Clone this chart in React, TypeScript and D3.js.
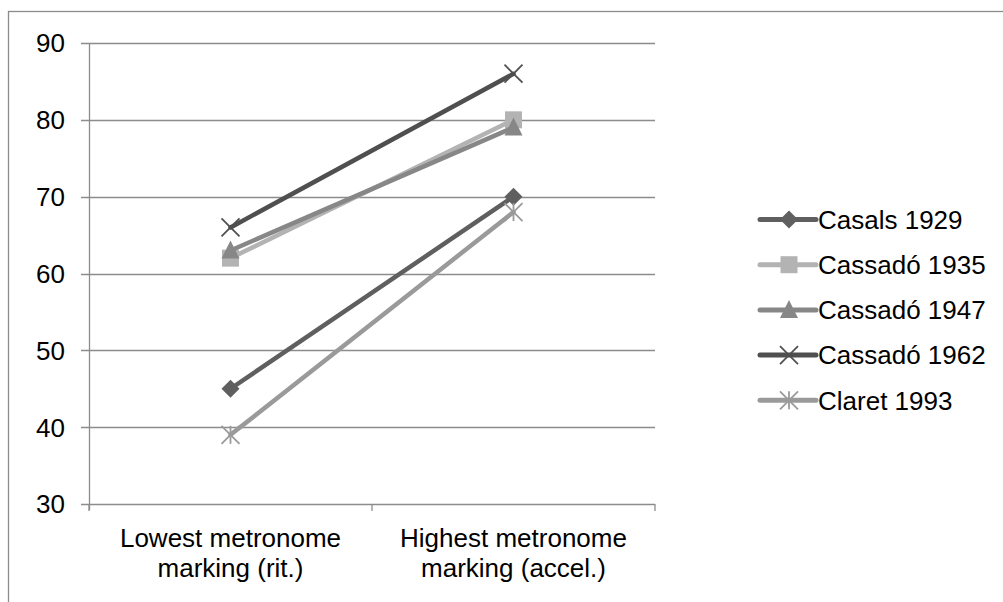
import React from "react";
import * as d3 from "d3";

const categories = ["Lowest metronome marking (rit.)", "Highest metronome marking (accel.)"];
const categoryLines = [["Lowest metronome", "marking (rit.)"], ["Highest metronome", "marking (accel.)"]];
const seriesNames = ["Casals 1929", "Cassadó 1935", "Cassadó 1947", "Cassadó 1962", "Claret 1993"];
const casals1929 = [45, 70];
const cassado1935 = [62, 80];
const cassado1947 = [63, 79];
const cassado1962 = [66, 86];
const claret1993 = [39, 68];
const yTicks = [30, 40, 50, 60, 70, 80, 90];

const seriesValues = [casals1929, cassado1935, cassado1947, cassado1962, claret1993];
const colors = ["#5f5f5f", "#b3b3b3", "#878787", "#4f4f4f", "#9a9a9a"];
const markers = ["diamond", "square", "triangle", "x", "star"];

function Marker({ type, x, y, color }: { type: string; x: number; y: number; color: string }) {
  if (type === "diamond") {
    const s = 9;
    return <path d={`M${x},${y - s}L${x + s},${y}L${x},${y + s}L${x - s},${y}Z`} fill={color} />;
  }
  if (type === "square") {
    return <rect x={x - 8.5} y={y - 8.5} width={17} height={17} fill={color} />;
  }
  if (type === "triangle") {
    return <path d={`M${x},${y - 10}L${x + 9},${y + 8}L${x - 9},${y + 8}Z`} fill={color} />;
  }
  if (type === "x") {
    const s = 9;
    return (
      <g stroke={color} strokeWidth={1.8}>
        <line x1={x - s} y1={y - s} x2={x + s} y2={y + s} />
        <line x1={x - s} y1={y + s} x2={x + s} y2={y - s} />
      </g>
    );
  }
  const s = 9;
  return (
    <g stroke={color} strokeWidth={1.8}>
      <line x1={x - s} y1={y - s} x2={x + s} y2={y + s} />
      <line x1={x - s} y1={y + s} x2={x + s} y2={y - s} />
      <line x1={x} y1={y - s} x2={x} y2={y + s} />
    </g>
  );
}

export default function App() {
  const W = 1003, H = 602;
  const left = 89, right = 655, top = 43, bottom = 504;
  const x = d3.scaleBand<string>().domain(categories).range([left, right]);
  const y = d3.scaleLinear().domain([30, 90]).range([bottom, top]);
  const cx = (i: number) => x(categories[i])! + x.bandwidth() / 2;
  const line = d3.line<number>().x((_, i) => cx(i)).y((d) => y(d));
  const axisColor = "#8c8c8c";
  const font = "'Liberation Sans', Arial, sans-serif";
  const legendX = 760, legendY0 = 219.5, legendStep = 45.2;
  const fs = 26;

  return (
    <svg width={W} height={H} style={{ position: "absolute", left: 0, top: 0 }} fontFamily={font}>
      <rect x={0} y={0} width={W} height={H} fill="#fff" />
      <rect x={8.5} y={11.5} width={1100} height={700} fill="none" stroke="#8c8c8c" strokeWidth={1.3} />
      {yTicks.map((t) => (
        <g key={t}>
          <line x1={left - 8} x2={right} y1={Math.round(y(t)) + 0.5} y2={Math.round(y(t)) + 0.5} stroke={axisColor} strokeWidth={1.3} />
          <text x={65} y={y(t)} dy="0.36em" textAnchor="end" fontSize={fs} fill="#000">{t}</text>
        </g>
      ))}
      <line x1={left + 0.5} x2={left + 0.5} y1={top} y2={bottom + 6} stroke={axisColor} strokeWidth={1.3} />
      {[0, 1, 2].map((i) => {
        const xx = left + i * x.step();
        return <line key={i} x1={xx} x2={xx} y1={bottom} y2={bottom + 7} stroke={axisColor} strokeWidth={1.3} />;
      })}
      {categories.map((c, i) => (
        <text key={c} textAnchor="middle" fontSize={fs} fill="#000">
          <tspan x={cx(i)} y={547}>{categoryLines[i][0]}</tspan>
          <tspan x={cx(i)} y={577}>{categoryLines[i][1]}</tspan>
        </text>
      ))}
      {seriesValues.map((vals, si) => (
        <g key={si}>
          <path d={line(vals)!} fill="none" stroke={colors[si]} strokeWidth={4.5} strokeLinecap="round" />
          {vals.map((v, i) => (
            <Marker key={i} type={markers[si]} x={cx(i)} y={y(v)} color={colors[si]} />
          ))}
        </g>
      ))}
      {seriesNames.map((n, i) => {
        const ly = legendY0 + i * legendStep;
        return (
          <g key={n}>
            <line x1={legendX} x2={legendX + 56} y1={ly} y2={ly} stroke={colors[i]} strokeWidth={5} strokeLinecap="round" />
            <Marker type={markers[i]} x={legendX + 29} y={ly} color={colors[i]} />
            <text x={818} y={ly} dy="0.36em" fontSize={fs} fill="#000">{n}</text>
          </g>
        );
      })}
    </svg>
  );
}
